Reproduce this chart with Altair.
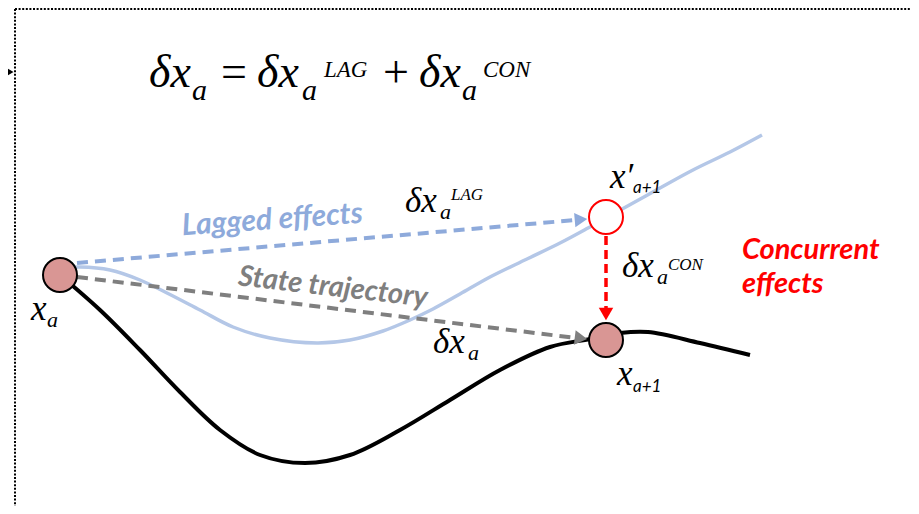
import altair as alt
import pandas as pd

# ---- curve data (diagram coordinates, y grows downward) ----
state_x = [60, 100, 140, 180, 220, 260, 305, 350, 400, 450, 500, 550, 590, 620, 648, 700, 750]
state_y = [275, 310, 350, 392, 430, 455, 463, 455, 430, 400, 370, 347, 339, 333, 332, 343, 355]

lag_x = [62, 80, 110, 140, 167, 200, 233, 270, 317, 350, 383, 410, 433, 460, 490, 527, 560, 588, 606, 624, 660, 693, 730, 762]
lag_y = [268, 267, 270, 280, 293, 310, 327, 338, 343, 340, 331, 320, 309, 294, 277, 259, 243, 228, 218, 208, 188, 170, 152, 135]

# arrows: start / end of dashed shafts
lag_arrow_x = [77, 576]
lag_arrow_y = [263, 220]
state_arrow_x = [77, 576]
state_arrow_y = [277, 338]
con_arrow_x = [606, 606]
con_arrow_y = [236, 308]

# arrow heads
head_x = [581, 581, 606]
head_y = [219.6, 338.2, 314]
head_shape = ["triangle-right", "triangle-right", "triangle-down"]
head_angle = [355, 7, 0]
head_color = ["#8eaadb", "#7f7f7f", "#ff0000"]

# states
state_pt_x = [60, 606]
state_pt_y = [275, 340]
pred_pt_x = [606]
pred_pt_y = [217]

# ---- texts ----
eq_main = ["δx", "δx", "δx"]
eq_main_x = [149, 257, 419]
eq_main_y = [87, 87, 87]
eq_op = ["=", "+"]
eq_op_x = [234, 396]
eq_op_y = [87, 87]
eq_sub = ["a", "a", "a"]
eq_sub_x = [192, 302, 462]
eq_sub_y = [100, 100, 100]
eq_sup = ["LAG", "CON"]
eq_sup_x = [324, 483]
eq_sup_y = [77, 77]

m_main = ["δx", "δx", "δx", "x", "x", "x′"]
m_main_x = [405, 622, 433, 31, 617, 610]
m_main_y = [212, 277, 353, 320, 385, 188]
m_sub = ["a", "a", "a", "a"]
m_sub_x = [440, 657, 468, 47]
m_sub_y = [219, 284, 360, 327]
m_sup = ["LAG", "CON"]
m_sup_x = [451, 668]
m_sup_y = [200, 270]
s_sub = ["a+1", "a+1"]
s_sub_x = [633, 633]
s_sub_y = [392, 193]

lbl_lag = "Lagged effects"
lbl_state = "State trajectory"
lbl_con = ["Concurrent", "effects"]
lbl_con_x = [742, 742]
lbl_con_y = [259, 293]

# ---- helpers ----
XS = alt.Scale(domain=[8, 911], nice=False, zero=False)
YS = alt.Scale(domain=[8, 506], nice=False, zero=False, reverse=True)


def enc(**kw):
    return dict(x=alt.X("x:Q", scale=XS, axis=None), y=alt.Y("y:Q", scale=YS, axis=None), **kw)


def df(xs, ys, **cols):
    d = {"x": xs, "y": ys}
    d.update(cols)
    return pd.DataFrame(d)


def line(xs, ys, color, width, dash=None):
    kw = dict(color=color, strokeWidth=width, interpolate="catmull-rom")
    if dash:
        kw["strokeDash"] = dash
        kw["interpolate"] = "linear"
    return alt.Chart(df(xs, ys)).mark_line(**kw).encode(**enc())


def texts(t, xs, ys, size, font, style="normal", weight="normal", color="black", align="left", angle=0):
    return alt.Chart(df(xs, ys, t=t)).mark_text(
        font=font, fontSize=size, fontStyle=style, fontWeight=weight, color=color,
        align=align, baseline="alphabetic", angle=angle
    ).encode(**enc(text="t:N"))


SERIF = "Liberation Serif"
SANS = "Lato"

border_v = alt.Chart(df([15, 15], [9, 520])).mark_line(color="black", strokeWidth=2, strokeDash=[2, 1.6]).encode(**enc())
border_h = alt.Chart(df([15, 930], [9, 9])).mark_line(color="black", strokeWidth=2, strokeDash=[2, 1.6]).encode(**enc())
left_head = alt.Chart(df([6], [72])).mark_point(shape="triangle-right", filled=True, color="black", size=300, opacity=1).encode(**enc())

heads = alt.Chart(df(head_x, head_y, shape=head_shape, angle=head_angle, c=head_color)).mark_point(
    filled=True, size=210, opacity=1
).encode(**enc(shape=alt.Shape("shape:N", scale=None), angle=alt.Angle("angle:Q", scale=None), color=alt.Color("c:N", scale=None)))

circles = alt.Chart(df(state_pt_x, state_pt_y)).mark_point(
    filled=True, fill="#d99694", stroke="black", strokeWidth=2, size=1156, opacity=1
).encode(**enc())
pred = alt.Chart(df(pred_pt_x, pred_pt_y)).mark_point(
    filled=True, fill="white", stroke="#ff0000", strokeWidth=2, size=1156, opacity=1
).encode(**enc())

layers = [
    border_v, border_h, left_head,
    line(lag_x, lag_y, "#b4c7e7", 3.5),
    line(state_x, state_y, "black", 4),
    line(lag_arrow_x, lag_arrow_y, "#8eaadb", 4, [11, 7]),
    line(state_arrow_x, state_arrow_y, "#7f7f7f", 4, [11, 7]),
    line(con_arrow_x, con_arrow_y, "#ff0000", 3.5, [9, 5]),
    heads, circles, pred,
    texts(eq_main, eq_main_x, eq_main_y, 46, SERIF, style="italic"),
    texts(eq_op, eq_op_x, eq_op_y, 46, SERIF, align="center"),
    texts(eq_sub, eq_sub_x, eq_sub_y, 30, SERIF, style="italic"),
    texts(eq_sup, eq_sup_x, eq_sup_y, 23, SERIF, style="italic"),
    texts(m_main, m_main_x, m_main_y, 35, SERIF, style="italic"),
    texts(m_sub, m_sub_x, m_sub_y, 22, SERIF, style="italic"),
    texts(m_sup, m_sup_x, m_sup_y, 17, SERIF, style="italic"),
    texts(s_sub, s_sub_x, s_sub_y, 17, SANS, style="italic"),
    texts([lbl_lag], [273], [229], 30, SANS, style="italic", weight="bold", color="#8eaadb", align="center", angle=356),
    texts([lbl_state], [332], [296], 29, SANS, style="italic", weight="bold", color="#7f7f7f", align="center", angle=6.5),
    texts(lbl_con, lbl_con_x, lbl_con_y, 29, SANS, style="italic", weight="bold", color="#ff0000"),
]

chart = alt.layer(*layers).properties(
    width=903, height=498, padding=0, autosize=alt.AutoSizeParams(type="none"), background="white"
).configure_view(stroke=None)

chart.save("out.html", embed_options={"renderer": "svg", "actions": False})
